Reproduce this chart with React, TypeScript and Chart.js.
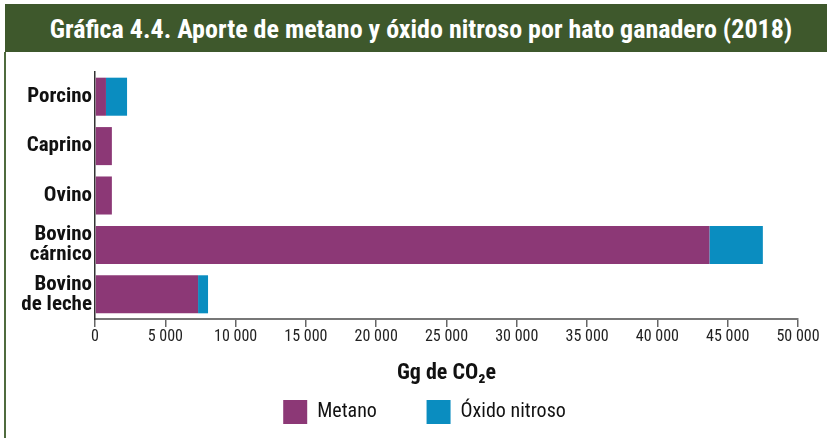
import React, { useEffect, useRef } from "react";
import { Chart, registerables } from "chart.js";

Chart.register(...registerables);

const categories: (string | string[])[] = [
  "Porcino",
  "Caprino",
  "Ovino",
  ["Bovino", "cárnico"],
  ["Bovino", "de leche"],
];
const metano = [780, 1200, 1200, 43700, 7330];
const oxidoNitroso = [1500, 0, 0, 3800, 710];
const seriesLabels = ["Metano", "Óxido nitroso"];
const titleText = "Gráfica 4.4. Aporte de metano y óxido nitroso por hato ganadero (2018)";
const axisTitle = "Gg de CO₂e";

const FONT = "'Roboto Condensed', 'Liberation Sans', Arial, sans-serif";

const fmt = (v: number) => String(v).replace(/\B(?=(\d{3})+(?!\d))/g, " ");

const legendShift = {
  id: "legendShift",
  afterLayout(chart: any) {
    if (chart.legend) {
      chart.legend.left += 23;
      chart.legend.right += 23;
    }
  },
};

export default function App() {
  const ref = useRef<HTMLCanvasElement | null>(null);

  useEffect(() => {
    document.body.style.margin = "0";
    const ctx = ref.current!;
    const chart = new Chart(ctx, {
      type: "bar",
      plugins: [legendShift],
      data: {
        labels: categories,
        datasets: [
          {
            label: seriesLabels[0],
            data: metano,
            backgroundColor: "#8C3876",
            categoryPercentage: 1,
            barPercentage: 0.77,
          },
          {
            label: seriesLabels[1],
            data: oxidoNitroso,
            backgroundColor: "#0A8DC0",
            categoryPercentage: 1,
            barPercentage: 0.77,
          },
        ],
      },
      options: {
        indexAxis: "y",
        animation: false,
        responsive: false,
        maintainAspectRatio: false,
        layout: { padding: { top: 15, right: 29, left: 0, bottom: 4 } },
        plugins: {
          tooltip: { enabled: false },
          legend: {
            position: "bottom",
            labels: {
              boxWidth: 24,
              boxHeight: 24,
              padding: 10,
              color: "#111",
              font: { family: FONT, size: 20 },
              generateLabels: (c: any) => {
                const items = Chart.defaults.plugins.legend.labels.generateLabels(c);
                items.forEach((it: any, i: number) => {
                  it.lineWidth = 0;
                  if (i === 0) it.text = it.text + "\u2003\u2003 ";
                });
                return items;
              },
            },
          },
        },
        scales: {
          x: {
            stacked: true,
            min: 0,
            max: 50000,
            afterFit: (s: any) => {
              s.height = 71;
            },
            ticks: {
              stepSize: 5000,
              color: "#222",
              font: { family: FONT, size: 16 },
              padding: 0,
              maxRotation: 0,
              callback: (v: any) => fmt(Number(v)),
            },
            grid: {
              drawOnChartArea: false,
              drawTicks: true,
              tickLength: 8,
              color: "#666",
              lineWidth: 1.5,
            },
            border: { display: true, color: "#777", width: 2 },
            title: {
              display: true,
              text: axisTitle,
              color: "#111",
              font: { family: FONT, size: 22, weight: "bold" },
              padding: { top: 10, bottom: 3 },
            },
          },
          y: {
            stacked: true,
            afterFit: (s: any) => {
              s.width = 90;
              s.paddingTop = 0;
              s.paddingBottom = 0;
            },
            ticks: {
              color: "#111",
              font: { family: FONT, size: 21, weight: "bold", lineHeight: 0.95 },
              padding: 3,
            },
            grid: { display: false, drawTicks: false },
            border: { display: true, color: "#333", width: 1.5 },
          },
        },
      },
    });
    return () => chart.destroy();
  }, []);

  return (
    <div style={{ position: "relative", width: 827, height: 438, background: "#fff", overflow: "hidden" }}>
      <div
        style={{
          position: "absolute",
          left: 5,
          top: 4,
          width: 822,
          height: 48,
          boxSizing: "border-box",
          paddingLeft: 10,
          background: "#3E582C",
          color: "#fff",
          fontFamily: FONT,
          fontWeight: "bold",
          fontSize: 26,
          lineHeight: "50px",
          textAlign: "center",
          whiteSpace: "nowrap",
        }}
      >
        {titleText}
      </div>
      <div style={{ position: "absolute", left: 4, top: 52, width: 1.5, height: 386, background: "#4F6B3E" }} />
      <canvas
        ref={ref}
        width={822}
        height={381}
        style={{ position: "absolute", left: 5, top: 57, width: 822, height: 381 }}
      />
    </div>
  );
}
